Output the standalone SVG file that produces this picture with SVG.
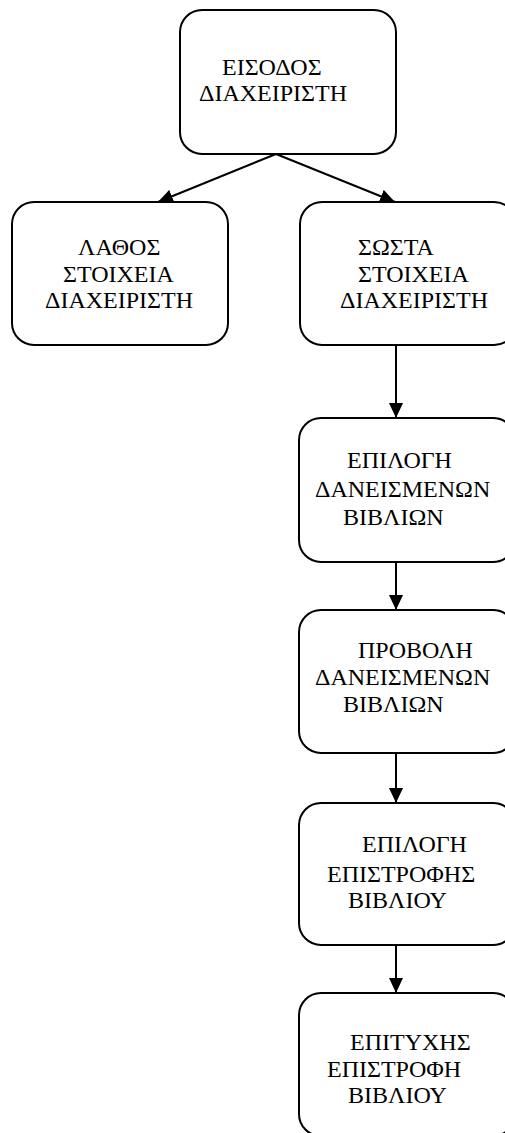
<svg xmlns="http://www.w3.org/2000/svg" width="505" height="1133" viewBox="0 0 505 1133">
  <style>
    .box { fill: #ffffff; stroke: #000000; stroke-width: 2; }
    .lbl { font-family: "Liberation Serif", "Times New Roman", serif; font-size: 24px; fill: #000000; }
    .edge { stroke: #000000; stroke-width: 2; fill: none; marker-end: url(#arrow); }
  </style>
  <defs>
    <marker id="arrow" viewBox="0 0 15 14" refX="15" refY="7" markerWidth="15" markerHeight="14" markerUnits="userSpaceOnUse" orient="auto">
      <path d="M0,0 L15,7 L0,14 Z" fill="#000000"/>
    </marker>
  </defs>
  <rect width="505" height="1133" fill="#ffffff"/>

  <g id="connectors">
    <line class="edge" x1="276" y1="154" x2="158" y2="202"/>
    <line class="edge" x1="276" y1="154" x2="395" y2="202"/>
    <line class="edge" x1="396" y1="346" x2="396" y2="418"/>
    <line class="edge" x1="396" y1="562" x2="396" y2="610"/>
    <line class="edge" x1="396" y1="753" x2="396" y2="803"/>
    <line class="edge" x1="396" y1="945" x2="396" y2="993"/>
  </g>

  <g id="admin-login">
    <rect class="box" x="180" y="10" width="216" height="144" rx="22"/>
    <text class="lbl" x="222" y="75">ΕΙΣΟΔΟΣ</text>
    <text class="lbl" x="199" y="101">ΔΙΑΧΕΙΡΙΣΤΗ</text>
  </g>

  <g id="wrong-credentials">
    <rect class="box" x="12" y="202" width="216" height="143" rx="22"/>
    <text class="lbl" x="78" y="255">ΛΑΘΟΣ</text>
    <text class="lbl" x="63" y="282">ΣΤΟΙΧΕΙΑ</text>
    <text class="lbl" x="45" y="308">ΔΙΑΧΕΙΡΙΣΤΗ</text>
  </g>

  <g id="correct-credentials">
    <rect class="box" x="300" y="202" width="216" height="143" rx="22"/>
    <text class="lbl" x="358" y="255">ΣΩΣΤΑ</text>
    <text class="lbl" x="358" y="282">ΣΤΟΙΧΕΙΑ</text>
    <text class="lbl" x="340" y="308">ΔΙΑΧΕΙΡΙΣΤΗ</text>
  </g>

  <g id="select-borrowed">
    <rect class="box" x="299" y="418" width="216" height="144" rx="22"/>
    <text class="lbl" x="347" y="468">ΕΠΙΛΟΓΗ</text>
    <text class="lbl" x="315" y="497">ΔΑΝΕΙΣΜΕΝΩΝ</text>
    <text class="lbl" x="343" y="525">ΒΙΒΛΙΩΝ</text>
  </g>

  <g id="show-borrowed">
    <rect class="box" x="299" y="610" width="216" height="143" rx="22"/>
    <text class="lbl" x="358" y="658">ΠΡΟΒΟΛΗ</text>
    <text class="lbl" x="315" y="685">ΔΑΝΕΙΣΜΕΝΩΝ</text>
    <text class="lbl" x="343" y="712">ΒΙΒΛΙΩΝ</text>
  </g>

  <g id="select-return">
    <rect class="box" x="299" y="803" width="216" height="142" rx="22"/>
    <text class="lbl" x="362" y="852">ΕΠΙΛΟΓΗ</text>
    <text class="lbl" x="327" y="882">ΕΠΙΣΤΡΟΦΗΣ</text>
    <text class="lbl" x="348" y="908">ΒΙΒΛΙΟΥ</text>
  </g>

  <g id="return-success">
    <rect class="box" x="299" y="993" width="216" height="143" rx="22"/>
    <text class="lbl" x="350" y="1050">ΕΠΙΤΥΧΗΣ</text>
    <text class="lbl" x="327" y="1077">ΕΠΙΣΤΡΟΦΗ</text>
    <text class="lbl" x="348" y="1103">ΒΙΒΛΙΟΥ</text>
  </g>
</svg>
